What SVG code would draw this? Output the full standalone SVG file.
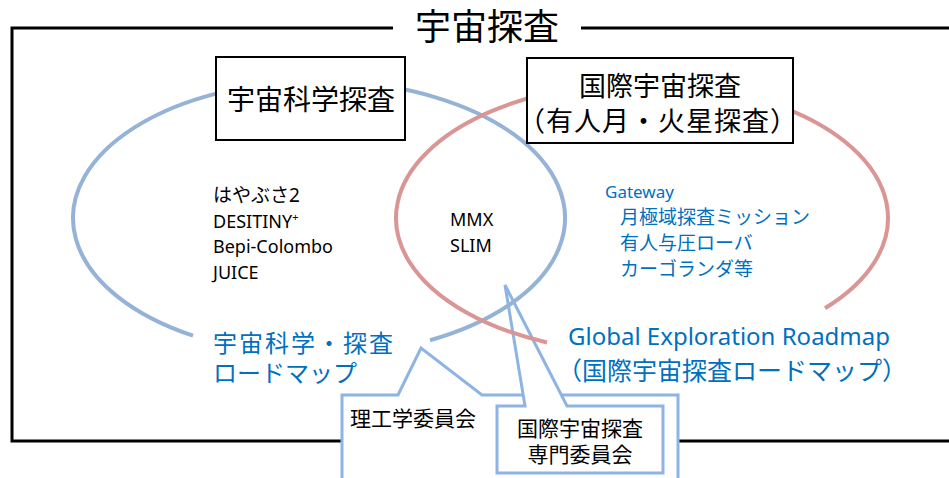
<svg xmlns="http://www.w3.org/2000/svg" width="949" height="478" viewBox="0 0 949 478">
<style>
text { font-family: "Noto Sans", "Noto Sans CJK JP", sans-serif; }
.frame { fill: none; stroke: #000; stroke-width: 3; }
.box { fill: #fff; stroke: #000; stroke-width: 2; }
.ell-b { fill: none; stroke: #95B3D7; stroke-width: 4; }
.ell-r { fill: none; stroke: #D99694; stroke-width: 4; }
.callout { fill: #fff; stroke: #8DB4E2; stroke-width: 3; stroke-linejoin: miter; }
.blk { fill: #000; }
.blu { fill: #0070C0; }
</style>
<rect width="949" height="478" fill="#fff"/>
<g id="frame">
  <path class="frame" d="M 393 28 H 12 V 441 H 960 M 581 28 H 960"/>
  <text x="487" y="40" font-size="36" text-anchor="middle" class="blk">宇宙探査</text>
</g>
<g id="connectors">
  <g id="callout-rikougaku">
    <path class="callout" d="M 342 395 H 398 L 421 348 L 482 395 H 678 V 490 H 342 Z"/>
  </g>
  <g id="callout-kokusai">
    <path class="callout" d="M 497 406 H 525 L 505 285 L 567 406 H 663 V 473 H 497 Z"/>
  </g>
</g>
<g id="ellipse-science">
  <path class="ell-b" d="M 430 340.3 A 246 137 0 1 0 193 335.7"/>
</g>
<g id="ellipse-international">
  <path class="ell-r" d="M 547 342.5 A 246 135 0 1 1 825 308.2"/>
</g>
<g id="node-science">
  <rect class="box" x="216" y="57" width="189" height="83"/>
  <text x="311" y="110" font-size="28" text-anchor="middle" class="blk">宇宙科学探査</text>
</g>
<g id="node-international">
  <rect class="box" x="527" y="58" width="266" height="85"/>
  <text x="660" y="96" font-size="27" text-anchor="middle" class="blk">国際宇宙探査</text>
  <text x="658" y="131" font-size="27" text-anchor="middle" class="blk" letter-spacing="1">（有人月・火星探査）</text>
</g>
<g id="list-science" class="blk">
  <text x="213" y="202" font-size="19">はやぶさ2</text>
  <text x="213" y="228" font-size="18">DESITINY<tspan font-size="11" dy="-7">+</tspan></text>
  <text x="213" y="253" font-size="18">Bepi-Colombo</text>
  <text x="213" y="279" font-size="18">JUICE</text>
</g>
<g id="list-overlap" class="blk">
  <text x="450" y="226" font-size="18">MMX</text>
  <text x="450" y="252" font-size="18">SLIM</text>
</g>
<g id="list-international" class="blu">
  <text x="605" y="198" font-size="17">Gateway</text>
  <text x="620" y="224" font-size="19">月極域探査ミッション</text>
  <text x="620" y="250" font-size="19">有人与圧ローバ</text>
  <text x="620" y="276" font-size="19">カーゴランダ等</text>
</g>
<g id="label-science-roadmap" class="blu">
  <text x="213" y="352" font-size="24" letter-spacing="2">宇宙科学・探査</text>
  <text x="213" y="382" font-size="24">ロードマップ</text>
</g>
<g id="label-ger" class="blu">
  <text x="568" y="345" font-size="24">Global Exploration Roadmap</text>
  <text x="557" y="380" font-size="25">（国際宇宙探査ロードマップ）</text>
</g>
<g id="label-rikougaku" class="blk">
  <text x="350" y="426" font-size="21">理工学委員会</text>
</g>
<g id="label-kokusai" class="blk">
  <text x="580" y="436" font-size="21" text-anchor="middle">国際宇宙探査</text>
  <text x="580" y="462" font-size="21" text-anchor="middle">専門委員会</text>
</g>
</svg>
